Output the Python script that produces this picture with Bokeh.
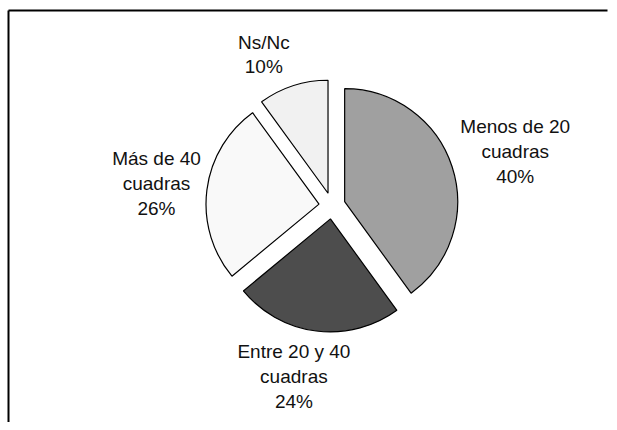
import math
from bokeh.plotting import figure
from bokeh.models import Range1d, ColumnDataSource
from bokeh.core.properties import value
from bokeh.embed import file_html
from bokeh.resources import INLINE

# ---- data (clockwise from 12 o'clock) ----
categories = ["Menos de 20 cuadras", "Entre 20 y 40 cuadras", "Más de 40 cuadras", "Ns/Nc"]
label_lines = ["Menos de 20\ncuadras", "Entre 20 y 40\ncuadras", "Más de 40\ncuadras", "Ns/Nc"]
percents = [40, 24, 26, 10]

# ---- styles / layout ----
colors = ["#A0A0A0", "#4D4D4D", "#F9F9F9", "#F1F1F1"]
W, H = 609, 422
CX, CY = 331.6, H - 205.3         # pie centre in canvas pixels (y up)
R = 113.0                         # pie radius in pixels
EXPLODE = 13.2                    # slice offset in pixels
label_radius = [191, 175, 177, 166]
label_nudge_deg = [1.5, 5.4, 0.0, -6.3]

total = float(sum(percents))
starts, ends, xs, ys, lx, ly, texts = [], [], [], [], [], [], []
cum = 0.0
for i, v in enumerate(percents):
    a0 = cum / total * 2 * math.pi
    a1 = (cum + v) / total * 2 * math.pi
    mid = (a0 + a1) / 2
    cum += v
    starts.append(math.pi / 2 - a0)
    ends.append(math.pi / 2 - a1)
    xs.append(CX + EXPLODE * math.sin(mid))
    ys.append(CY + EXPLODE * math.cos(mid))
    la = mid + math.radians(label_nudge_deg[i])
    lx.append(CX + label_radius[i] * math.sin(la))
    ly.append(CY + label_radius[i] * math.cos(la))
    texts.append(f"{label_lines[i]}\n{v}%")

src = ColumnDataSource(dict(x=xs, y=ys, start=starts, end=ends, color=colors,
                            cat=categories))
lsrc = ColumnDataSource(dict(x=lx, y=ly, text=texts))

p = figure(width=W, height=H, output_backend="svg", toolbar_location=None,
           x_range=Range1d(0, W), y_range=Range1d(0, H),
           x_axis_type=None, y_axis_type=None, min_border=0)
p.grid.visible = False
p.outline_line_color = None
p.background_fill_color = "white"
p.border_fill_color = "white"

# chart-area frame (only its top and left edges fall inside the picture)
p.segment(x0=[8, 8], y0=[0, H - 10], x1=[8, W - 2], y1=[H - 10, H - 10],
          line_color="black", line_width=2)

p.wedge(x="x", y="y", radius=R, start_angle="start", end_angle="end",
        direction="clock", fill_color="color", line_color="black",
        line_width=1.2, source=src)

p.text(x="x", y="y", text="text", source=lsrc, text_align="center",
       text_baseline="middle", text_font=value("Liberation Sans"),
       text_font_size="19px", text_line_height=1.18, text_color="#111111")

open("out.html", "w").write(file_html(p, INLINE))
